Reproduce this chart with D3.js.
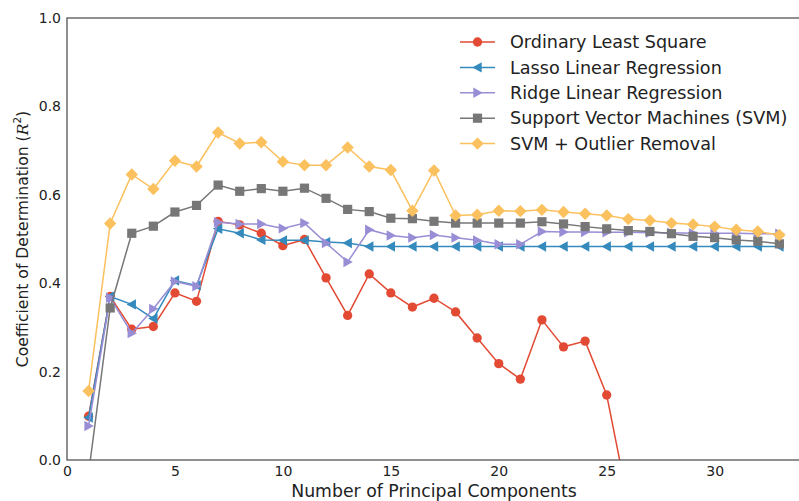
<!DOCTYPE html>
<html><head><meta charset="utf-8">
<script src="https://cdn.jsdelivr.net/npm/d3@7"></script>
<style>body{margin:0;background:#fff}svg{display:block}text{font-family:"DejaVu Sans",sans-serif}</style>
</head><body><svg id="c" width="799" height="501"></svg>
<script>
const xOls = d3.range(1, 27);
const ols = [0.099,0.370,0.296,0.302,0.378,0.359,0.540,0.532,0.513,0.485,0.499,0.412,0.327,0.421,0.378,0.346,0.366,0.335,0.276,0.218,0.183,0.317,0.256,0.269,0.147,-0.098];
const xAll = d3.range(1, 34);
const lasso = [0.096,0.370,0.352,0.320,0.406,0.395,0.523,0.513,0.498,0.497,0.497,0.493,0.491,0.483,0.483,0.483,0.483,0.483,0.483,0.483,0.483,0.483,0.483,0.483,0.483,0.483,0.483,0.483,0.483,0.483,0.483,0.483,0.483];
const ridge = [0.077,0.367,0.287,0.342,0.404,0.393,0.538,0.534,0.534,0.524,0.536,0.491,0.448,0.521,0.508,0.503,0.509,0.503,0.497,0.488,0.488,0.517,0.516,0.516,0.515,0.515,0.514,0.514,0.513,0.513,0.513,0.512,0.512];
const svm = [-0.03,0.344,0.513,0.529,0.561,0.576,0.622,0.608,0.614,0.608,0.615,0.592,0.567,0.562,0.547,0.546,0.540,0.536,0.536,0.536,0.536,0.539,0.534,0.528,0.523,0.519,0.517,0.512,0.506,0.503,0.498,0.495,0.489];
const svmOut = [0.156,0.535,0.646,0.613,0.677,0.664,0.741,0.716,0.719,0.675,0.667,0.667,0.707,0.664,0.656,0.564,0.655,0.553,0.555,0.564,0.563,0.566,0.561,0.557,0.553,0.545,0.542,0.536,0.533,0.528,0.521,0.517,0.509];
const seriesNames = ["Ordinary Least Square","Lasso Linear Regression","Ridge Linear Regression","Support Vector Machines (SVM)","SVM + Outlier Removal"];
const xTicks = [0,5,10,15,20,25,30];
const yTicks = [0.0,0.2,0.4,0.6,0.8,1.0];

const colors = ["#E24A33","#348ABD","#988ED5","#777777","#FBC15E"];
const shapes = ["circle","tleft","tright","square","diamond"];
const series = [
  {x:xOls, y:ols}, {x:xAll, y:lasso}, {x:xAll, y:ridge}, {x:xAll, y:svm}, {x:xAll, y:svmOut}
];

const svg = d3.select("#c");
const L=67, R=801, T=18, B=460;
const x = d3.scaleLinear().domain([0,34]).range([L,R]);
const y = d3.scaleLinear().domain([0,1]).range([B,T]);

svg.append("defs").append("clipPath").attr("id","clip")
  .append("rect").attr("x",L).attr("y",T).attr("width",R-L).attr("height",B-T);

function markerPath(s){
  switch(s){
    case "circle": return d3.symbol(d3.symbolCircle, 68)();
    case "square": return "M-4.6,-4.6H4.6V4.6H-4.6Z";
    case "diamond": return "M0,-6.2L6.2,0L0,6.2L-6.2,0Z";
    case "tleft": return "M-5.2,0L4.2,-5.2L4.2,5.2Z";
    case "tright": return "M5.2,0L-4.2,-5.2L-4.2,5.2Z";
  }
}

const plot = svg.append("g").attr("clip-path","url(#clip)");
const line = d3.line().x(d=>x(d[0])).y(d=>y(d[1]));
series.forEach((s,i)=>{
  const pts = s.x.map((xv,j)=>[xv,s.y[j]]);
  const g = plot.append("g");
  g.append("path").attr("d",line(pts)).attr("fill","none").attr("stroke",colors[i]).attr("stroke-width",1.5);
  g.selectAll("path.m").data(pts).enter().append("path").attr("class","m")
    .attr("d",markerPath(shapes[i])).attr("transform",d=>`translate(${x(d[0])},${y(d[1])})`)
    .attr("fill",colors[i]);
});

// frame
svg.append("rect").attr("x",L).attr("y",T).attr("width",R-L+5).attr("height",B-T)
  .attr("fill","none").attr("stroke","#555").attr("stroke-width",1.3);

// axes (tick labels only)
const xa = svg.append("g").attr("transform",`translate(0,${B})`)
  .call(d3.axisBottom(x).tickValues(xTicks).tickSize(0).tickPadding(6).tickFormat(d3.format("d")));
xa.select(".domain").remove();
xa.selectAll("text").attr("font-size",14).attr("fill","#222").attr("font-family","DejaVu Sans");
const ya = svg.append("g").attr("transform",`translate(${L},0)`)
  .call(d3.axisLeft(y).tickValues(yTicks).tickSize(0).tickPadding(6).tickFormat(d3.format(".1f")));
ya.select(".domain").remove();
ya.selectAll("text").attr("font-size",14).attr("fill","#222").attr("font-family","DejaVu Sans");

svg.append("text").attr("x",(L+R)/2).attr("y",497).attr("text-anchor","middle")
  .attr("font-size",17.3).attr("fill","#222").text("Number of Principal Components");
const yl = svg.append("text").attr("transform",`translate(28,${(T+B)/2}) rotate(-90)`)
  .attr("text-anchor","middle").attr("font-size",15.6).attr("fill","#222");
yl.append("tspan").text("Coefficient of Determination (");
yl.append("tspan").attr("font-family","DejaVu Serif").attr("font-style","italic").text("R");
yl.append("tspan").attr("font-size",10.5).attr("dy",-7).text("2");
yl.append("tspan").attr("dy",7).text(")");

// legend
const lg = svg.append("g");
seriesNames.forEach((n,i)=>{
  const yy = 42 + i*25.4;
  lg.append("line").attr("x1",460).attr("x2",495).attr("y1",yy).attr("y2",yy).attr("stroke",colors[i]).attr("stroke-width",1.5);
  lg.append("path").attr("d",markerPath(shapes[i])).attr("transform",`translate(477.5,${yy})`).attr("fill",colors[i]);
  lg.append("text").attr("x",510).attr("y",yy).attr("dy","0.35em").attr("font-size",17.6).attr("fill","#222").text(n);
});
</script></body></html>
